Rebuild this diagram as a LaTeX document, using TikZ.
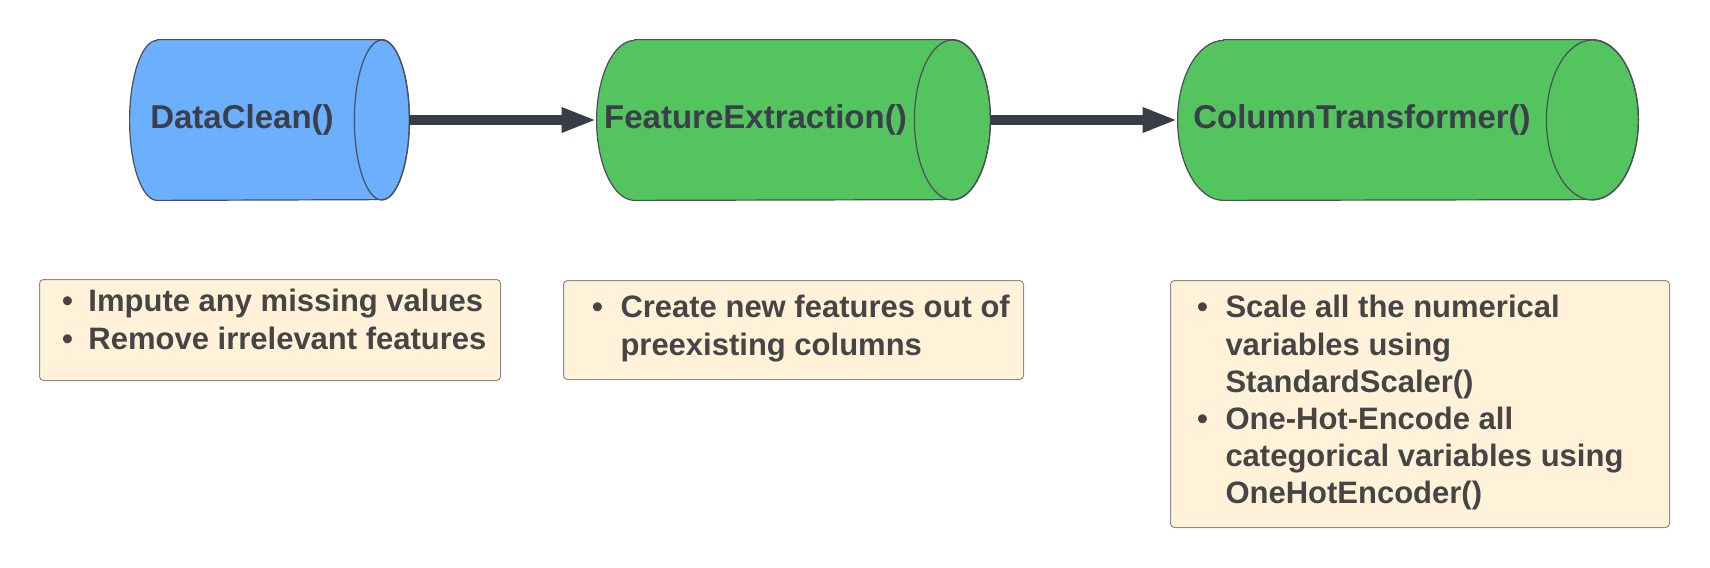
\documentclass[tikz,border=0pt]{standalone}
\usepackage{fontspec}
\setmainfont{Liberation Sans}
\usetikzlibrary{arrows.meta,backgrounds}
\definecolor{cylblue}{HTML}{6BAFFD}
\definecolor{cylgreen}{HTML}{54C45F}
\definecolor{cyltext}{HTML}{3A3F49}
\definecolor{cylline}{HTML}{4A4F58}
\definecolor{arrowc}{HTML}{383E48}
\definecolor{boxfill}{HTML}{FFF2D9}
\definecolor{boxline}{HTML}{8C8C8C}
\definecolor{boxtextc}{HTML}{454545}

\newcommand\cylbody[3]{% name, rx, fill
  \path[cylshape, fill=#3] ([xshift=#2]#1.north west) -- ([xshift=#2]#1.north east)
    arc[start angle=90,end angle=-90,x radius=#2,y radius=40pt]
    -- ([xshift=#2]#1.south west)
    arc[start angle=270,end angle=90,x radius=#2,y radius=40pt] -- cycle;
  \path[cylshape] ([xshift=#2]#1.east) ellipse [x radius=#2, y radius=40pt];}
\newcommand\bulx[2]{\hspace*{#1}\makebox[#2][l]{\textbullet}}
\newcommand\indx[1]{\hspace*{#1}}
\newcommand\boxcontent[4]{\parbox[c][#1][t]{#2}{\color{boxtextc}\fontsize{15.5pt}{18.6pt}\selectfont\bfseries\rule{0pt}{#3}#4}}

\begin{document}
\begin{tikzpicture}[x=0.5pt,y=0.5pt,
  cylshape/.style={draw=cylline, line width=0.6pt},
  cyllabel/.style={inner sep=0pt, minimum height=80pt, text=cyltext, font=\fontsize{16.5pt}{19pt}\selectfont\bfseries},
  arr/.style={line width=5pt, draw=arrowc, -{Triangle[length=17.5pt,width=11.5pt]}},
  notebox/.style={draw=boxline, fill=boxfill, rounded corners=2pt, line width=0.5pt, inner sep=0pt, anchor=north west}]
\useasboundingbox (0,0) rectangle (1710,-568);

% cylinders (label nodes span from left edge to inner ellipse)
\node[cyllabel, minimum width=112pt] (c1) at (242,-120) {DataClean()};
\node[cyllabel, minimum width=158.5pt] (c2) at (755.5,-120) {FeatureExtraction()};
\node[cyllabel, minimum width=184pt] (c3) at (1362,-120) {ColumnTransformer()};
\coordinate (c1r) at ([xshift=27.5pt]c1.east);
\coordinate (c2r) at ([xshift=38pt]c2.east);

\begin{scope}[on background layer]
  \cylbody{c1}{13.75pt}{cylblue}
  \cylbody{c2}{19pt}{cylgreen}
  \cylbody{c3}{23pt}{cylgreen}
\end{scope}

% arrows
\draw[arr] (c1r) -- (c2.west);
\draw[arr] (c2r) -- (c3.west);

% note boxes
\node[notebox] (b1) at (39,-279) {\boxcontent{50.5pt}{230.5pt}{16.2pt}{%
  \bulx{11.3pt}{13.2pt}Impute any missing values\\
  \bulx{11.3pt}{13.2pt}Remove irrelevant features}};
\node[notebox] (b2) at (563,-280) {\boxcontent{49.5pt}{230pt}{18.7pt}{%
  \bulx{14.3pt}{14.2pt}Create new features out of\\
  \indx{28.5pt}preexisting columns}};
\node[notebox] (b3) at (1170,-280) {\boxcontent{123.5pt}{249.5pt}{18.7pt}{%
  \bulx{13.3pt}{14.2pt}Scale all the numerical\\
  \indx{27.5pt}variables using\\
  \indx{27.5pt}StandardScaler()\\
  \bulx{13.3pt}{14.2pt}One-Hot-Encode all\\
  \indx{27.5pt}categorical variables using\\
  \indx{27.5pt}OneHotEncoder()}};
\end{tikzpicture}
\end{document}
